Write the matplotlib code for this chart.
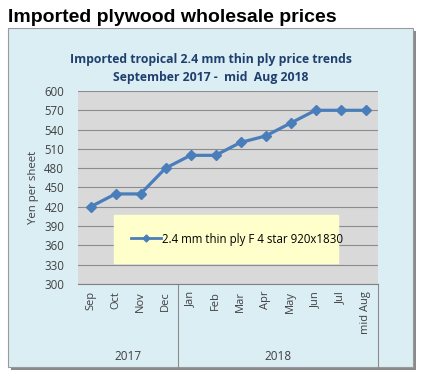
import numpy as np
import matplotlib
matplotlib.use('Agg')
import matplotlib.pyplot as plt
import matplotlib.transforms as mtrans
from matplotlib.patches import Rectangle

months = ['Sep', 'Oct', 'Nov', 'Dec', 'Jan', 'Feb', 'Mar', 'Apr', 'May', 'Jun', 'Jul', 'mid Aug']
years = ['2017', '2018']
year_len = [4, 8]
price = [420, 440, 440, 480, 500, 500, 520, 530, 550, 570, 570, 570]
yticks = list(range(300, 601, 30))

W, H = 430, 380
fig = plt.figure(figsize=(W / 100, H / 100), dpi=100)
fig.patch.set_facecolor('white')

def fx(px):
    return px / W

def fy(py):
    return 1 - py / H

# outer chart box with shadow
fig.patches.append(Rectangle((fx(11), fy(370)), fx(405), (367 - 28) / H,
                             transform=fig.transFigure, facecolor='#8a8a8a', edgecolor='none', zorder=-10))
fig.patches.append(Rectangle((fx(8), fy(367)), fx(405), (367 - 28) / H,
                             transform=fig.transFigure, facecolor='#dbeef4', edgecolor='#9a9a9a',
                             lw=0.8, zorder=-9))

fig.text(fx(8), fy(18), 'Imported plywood wholesale prices', fontsize=14, fontweight='bold',
         family='Liberation Sans', color='black', va='center', ha='left')
fig.text(fx(211), fy(59), 'Imported tropical 2.4 mm thin ply price trends', fontsize=8.8,
         fontweight='bold', family='Open Sans', color='#1f3f6e', ha='center', va='center')
fig.text(fx(211), fy(78), 'September 2017 -  mid  Aug 2018', fontsize=8.8,
         fontweight='bold', family='Open Sans', color='#1f3f6e', ha='center', va='center')

ax = fig.add_axes([fx(78), fy(284), 300 / W, (284 - 91) / H])
ax.set_facecolor('#d9d9d9')
x = np.arange(len(months))
ax.plot(x, price, color='#4a7ebb', lw=2.3, marker='D', ms=5.5, mec='#4a7ebb',
        label='2.4 mm thin ply F 4 star 920x1830', zorder=3)
ax.set_xlim(-0.5, len(months) - 0.5)
ax.set_ylim(300, 600)
ax.set_yticks(yticks)
ax.yaxis.grid(True, color='#8c8c8c', lw=0.8)
ax.set_axisbelow(True)
for s in ['top', 'right', 'left']:
    ax.spines[s].set_visible(False)
ax.spines['bottom'].set_color('#808080')
ax.tick_params(axis='y', length=0, labelsize=8.3, labelcolor='#404040', pad=10)
ax.set_xticks(x)
ax.set_xticklabels(months, rotation=90, fontsize=8, color='#404040', va='top', family='Open Sans')
ax.tick_params(axis='x', length=0, pad=5)
for t in ax.get_yticklabels():
    t.set_family('Open Sans')
ax.set_ylabel('Yen per sheet', fontsize=8.2, color='#404040', family='Open Sans', labelpad=4)

# year groups under the category axis
trans = mtrans.blended_transform_factory(ax.transData, ax.transAxes)
bottom = -(367 - 284) / (284 - 91)
start = -0.5
for yr, n in zip(years, year_len):
    end = start + n
    ax.text((start + end) / 2, -(357 - 284) / (284 - 91), yr, transform=trans, ha='center',
            va='center', fontsize=8.5, color='#404040', family='Open Sans')
    ax.plot([end, end], [0, bottom], transform=trans, color='#8c8c8c', lw=0.8, clip_on=False)
    start = end

leg = ax.legend(loc='center', bbox_to_anchor=((114 - 78) / 300, 1 - (265 - 91) / 193,
                                               (338 - 114) / 300, (265 - 213) / 193),
                mode='expand', frameon=True, fancybox=False, facecolor='#ffffcc', edgecolor='#ffffcc',
                framealpha=1, borderpad=1.5, borderaxespad=0, handlelength=2.6, handletextpad=0.1,
                prop={'family': 'Open Sans', 'size': 8.3})
for h in leg.legend_handles:
    h.set_markersize(3.5)
    h.set_linewidth(2)

fig.savefig('out.png', dpi=100)
